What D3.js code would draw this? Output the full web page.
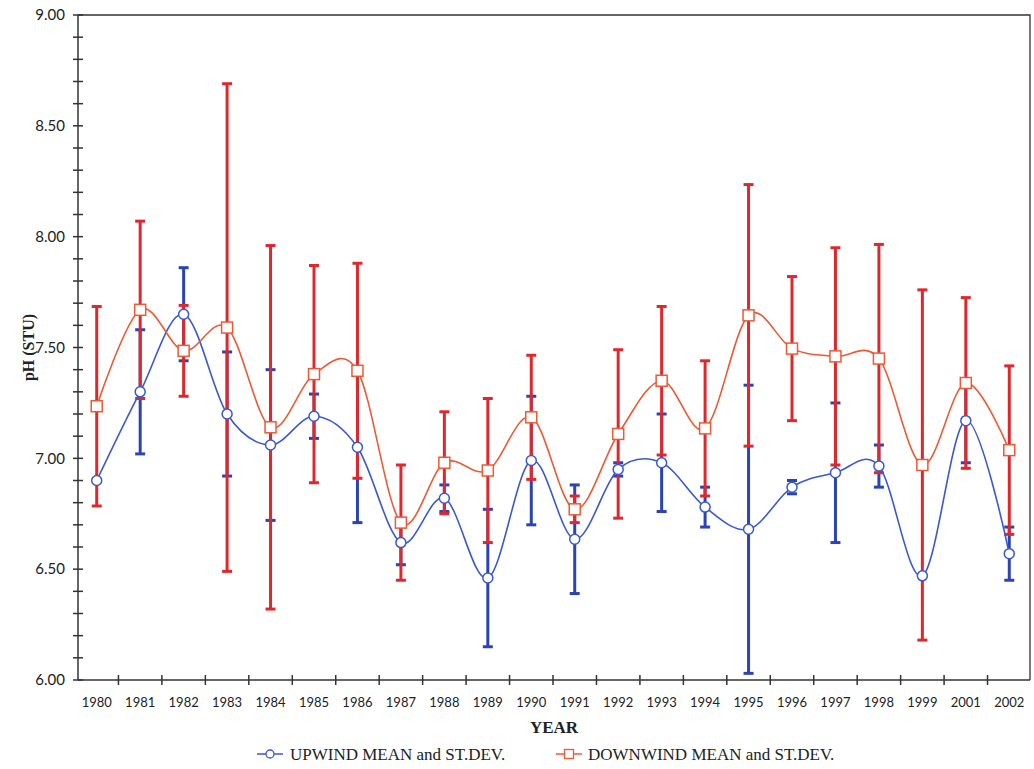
<!DOCTYPE html>
<html>
<head>
<meta charset="utf-8">
<script src="https://cdn.jsdelivr.net/npm/d3@7"></script>
<style>
  body { margin: 0; background: #fff; }
  svg text { fill: #222; }
</style>
</head>
<body>
<div id="chartGoesHere"></div>
<script>
// pH by year, upwind vs downwind, means with +/- 1 st.dev. bars
var years = ["1980","1981","1982","1983","1984","1985","1986","1987","1988","1989","1990",
             "1991","1992","1993","1994","1995","1996","1997","1998","1999","2001","2002"];

var upMean = [6.90, 7.30, 7.65, 7.20, 7.06, 7.19, 7.05, 6.62, 6.82, 6.46, 6.99,
              6.635, 6.95, 6.98, 6.78, 6.68, 6.87, 6.935, 6.965, 6.47, 7.17, 6.57];
var upSd   = [0.00, 0.28, 0.21, 0.28, 0.34, 0.10, 0.34, 0.10, 0.06, 0.31, 0.29,
              0.245, 0.03, 0.22, 0.09, 0.65, 0.03, 0.315, 0.095, 0.00, 0.19, 0.12];

var downMean = [7.235, 7.67, 7.485, 7.59, 7.14, 7.38, 7.395, 6.71, 6.98, 6.945, 7.185,
                6.77, 7.11, 7.35, 7.135, 7.645, 7.495, 7.46, 7.45, 6.97, 7.34, 7.037];
var downSd   = [0.45, 0.40, 0.205, 1.10, 0.82, 0.49, 0.485, 0.26, 0.23, 0.325, 0.28,
                0.06, 0.38, 0.335, 0.305, 0.59, 0.325, 0.49, 0.515, 0.79, 0.385, 0.38];

var yMajor = [6.0, 6.5, 7.0, 7.5, 8.0, 8.5, 9.0];

var width = 1034, height = 769,
    margin = {left: 78, right: 1030, top: 15, bottom: 680};

var blueLine = "#3a58d0", blueBar = "#2b43b5",
    redLine = "#ec5a35", redBar = "#e0282c";

var svg = d3.select("#chartGoesHere").append("svg")
    .attr("width", width).attr("height", height);

var x = d3.scaleBand().domain(years).range([75, 1031]).padding(0);
var y = d3.scaleLinear().domain([6, 9]).range([margin.bottom, margin.top]);
var cx = d => x(d) + x.bandwidth() / 2;

// frame: top and right lines
svg.append("path")
   .attr("d", "M" + margin.left + "," + margin.top + "H" + margin.right + "V" + margin.bottom)
   .attr("stroke", "#333").attr("stroke-width", 1.3).attr("fill", "none");

// y axis with crossing ticks every 0.1
var yAxis = svg.append("g");
yAxis.append("line").attr("x1", margin.left).attr("x2", margin.left)
     .attr("y1", margin.top).attr("y2", margin.bottom)
     .attr("stroke", "#333").attr("stroke-width", 1.5);
yAxis.selectAll("line.tk").data(d3.range(60, 91).map(v => v / 10)).enter()
     .append("line").attr("class", "tk")
     .attr("x1", margin.left - 5).attr("x2", margin.left + 5)
     .attr("y1", d => y(d)).attr("y2", d => y(d))
     .attr("stroke", "#333").attr("stroke-width", 1.5);
yAxis.selectAll("text").data(yMajor).enter().append("text")
     .attr("x", 65).attr("y", d => y(d)).attr("dy", "0.35em")
     .attr("text-anchor", "end")
     .style("font-family", "Lato, 'Liberation Sans', sans-serif").style("font-size", "15px")
     .text(d => d.toFixed(2));

// x axis, ticks between the categories
var xAxis = svg.append("g");
xAxis.append("line").attr("x1", margin.left).attr("x2", margin.right)
     .attr("y1", margin.bottom).attr("y2", margin.bottom)
     .attr("stroke", "#333").attr("stroke-width", 1.5);
xAxis.selectAll("line.tk").data(years.slice(1)).enter()
     .append("line").attr("class", "tk")
     .attr("x1", d => x(d)).attr("x2", d => x(d))
     .attr("y1", margin.bottom - 5).attr("y2", margin.bottom + 5)
     .attr("stroke", "#333").attr("stroke-width", 1.5);
xAxis.selectAll("text").data(years).enter().append("text")
     .attr("x", cx).attr("y", 702).attr("dy", "0.35em")
     .attr("text-anchor", "middle")
     .style("font-family", "Lato, 'Liberation Sans', sans-serif").style("font-size", "13px")
     .text(d => d);

// axis titles
svg.append("text").attr("x", (margin.left + margin.right) / 2).attr("y", 733).attr("text-anchor", "middle")
   .style("font-family", "'Liberation Serif', serif").style("font-size", "17px")
   .style("font-weight", "bold").text("YEAR");
svg.append("text")
   .attr("transform", "translate(34," + (margin.top + margin.bottom) / 2 + ") rotate(-90)")
   .attr("text-anchor", "middle")
   .style("font-family", "'Liberation Serif', serif").style("font-size", "16px")
   .style("font-weight", "bold").text("pH (STU)");

var up = years.map((d, i) => ({year: d, m: upMean[i], s: upSd[i]}));
var down = years.map((d, i) => ({year: d, m: downMean[i], s: downSd[i]}));

function errorBars(data, colour, cls) {
  var g = svg.append("g").attr("class", cls);
  var b = g.selectAll("g").data(data.filter(d => d.s > 0)).enter().append("g");
  b.append("line").attr("x1", d => cx(d.year)).attr("x2", d => cx(d.year))
   .attr("y1", d => y(d.m + d.s)).attr("y2", d => y(d.m - d.s))
   .attr("stroke", colour).attr("stroke-width", 3);
  [1, -1].forEach(function(sgn) {
    b.append("line").attr("x1", d => cx(d.year) - 5).attr("x2", d => cx(d.year) + 5)
     .attr("y1", d => y(d.m + sgn * d.s)).attr("y2", d => y(d.m + sgn * d.s))
     .attr("stroke", colour).attr("stroke-width", 3);
  });
}
errorBars(up, blueBar, "upBars");
errorBars(down, redBar, "downBars");

var line = d3.line().x(d => cx(d.year)).y(d => y(d.m)).curve(d3.curveCardinal.tension(0));

svg.append("path").attr("d", line(up)).attr("fill", "none")
   .attr("stroke", blueLine).attr("stroke-width", 1.6);
svg.append("path").attr("d", line(down)).attr("fill", "none")
   .attr("stroke", redLine).attr("stroke-width", 1.6);

svg.selectAll("circle.up").data(up).enter().append("circle").attr("class", "up")
   .attr("cx", d => cx(d.year)).attr("cy", d => y(d.m)).attr("r", 5)
   .attr("fill", "#fff").attr("stroke", blueLine).attr("stroke-width", 1.5);
svg.selectAll("rect.down").data(down).enter().append("rect").attr("class", "down")
   .attr("x", d => cx(d.year) - 5.5).attr("y", d => y(d.m) - 5.5)
   .attr("width", 11).attr("height", 11)
   .attr("fill", "#fff").attr("stroke", redLine).attr("stroke-width", 1.5);

// legend
var leg = svg.append("g").style("font-family", "'Liberation Serif', serif").style("font-size", "17px");
leg.append("line").attr("x1", 257).attr("x2", 283).attr("y1", 754).attr("y2", 754)
   .attr("stroke", blueLine).attr("stroke-width", 1.5);
leg.append("circle").attr("cx", 270).attr("cy", 754).attr("r", 4)
   .attr("fill", "#fff").attr("stroke", blueLine).attr("stroke-width", 1.3);
leg.append("text").attr("x", 290).attr("y", 754).attr("dy", "0.35em").text("UPWIND MEAN and ST.DEV.");
leg.append("line").attr("x1", 556).attr("x2", 582).attr("y1", 754).attr("y2", 754)
   .attr("stroke", redLine).attr("stroke-width", 1.5);
leg.append("rect").attr("x", 564.5).attr("y", 749.5).attr("width", 9).attr("height", 9)
   .attr("fill", "#fff").attr("stroke", redLine).attr("stroke-width", 1.3);
leg.append("text").attr("x", 588).attr("y", 754).attr("dy", "0.35em").text("DOWNWIND MEAN and ST.DEV.");
</script>
</body>
</html>
